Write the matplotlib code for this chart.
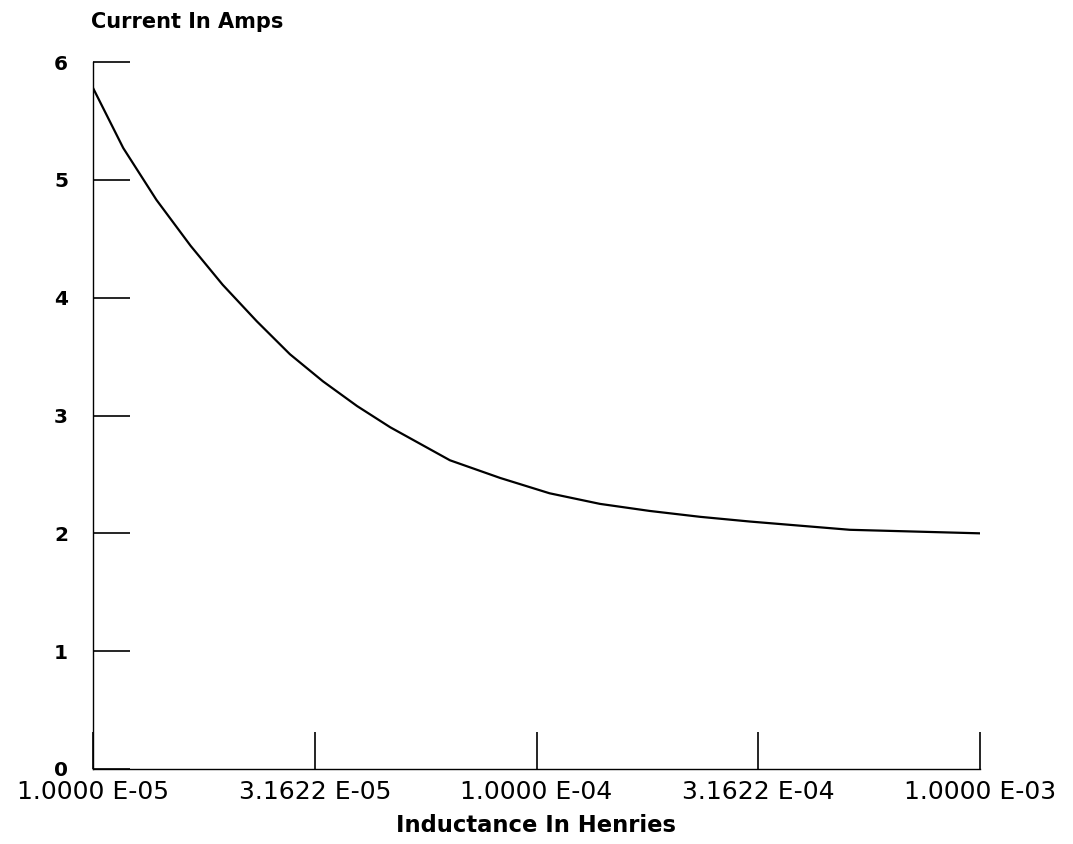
import matplotlib
matplotlib.use('Agg')
import matplotlib.pyplot as plt

# Data
inductance = [1.00e-5, 1.17e-5, 1.39e-5, 1.66e-5, 1.96e-5, 2.34e-5, 2.78e-5,
              3.30e-5, 3.94e-5, 4.68e-5, 6.38e-5, 8.28e-5, 1.07e-4, 1.39e-4,
              1.80e-4, 2.34e-4, 3.03e-4, 5.09e-4, 1.00e-3]
current = [5.78, 5.27, 4.83, 4.44, 4.11, 3.80, 3.52,
           3.29, 3.08, 2.90, 2.62, 2.47, 2.34, 2.25,
           2.19, 2.14, 2.10, 2.03, 2.00]

x_ticks = [1e-5, 3.1622e-5, 1e-4, 3.1622e-4, 1e-3]
x_tick_labels = ['1.0000 E-05', '3.1622 E-05', '1.0000 E-04', '3.1622 E-04', '1.0000 E-03']
y_ticks = [0, 1, 2, 3, 4, 5, 6]

fig = plt.figure(figsize=(10.73, 8.44), dpi=100)
ax = fig.add_axes([93 / 1073, 1 - 769 / 844, 887 / 1073, 707 / 844])

ax.plot(inductance, current, color='black', lw=1.6)

ax.set_xscale('log')
ax.set_xlim(1e-5, 1e-3)
ax.set_ylim(0, 6)
ax.minorticks_off()

ax.set_xticks(x_ticks)
ax.set_xticklabels(x_tick_labels)
ax.set_yticks(y_ticks)

for s in ['top', 'right']:
    ax.spines[s].set_visible(False)
for s in ['left', 'bottom']:
    ax.spines[s].set_linewidth(1.0)

ax.tick_params(axis='both', direction='in', length=26.5, width=1.2, color='black')
ax.tick_params(axis='x', labelsize=18, pad=8)
ax.tick_params(axis='y', labelsize=14.5, pad=18)
for lbl in ax.get_yticklabels():
    lbl.set_fontweight('bold')

fig.text(91 / 1073, 1 - 22 / 844, 'Current In Amps', ha='left', va='center',
         fontsize=15, fontweight='bold')
fig.text(536 / 1073, 1 - 826 / 844, 'Inductance In Henries', ha='center', va='center',
         fontsize=16.3, fontweight='bold')

plt.savefig('out.png', dpi=100)
